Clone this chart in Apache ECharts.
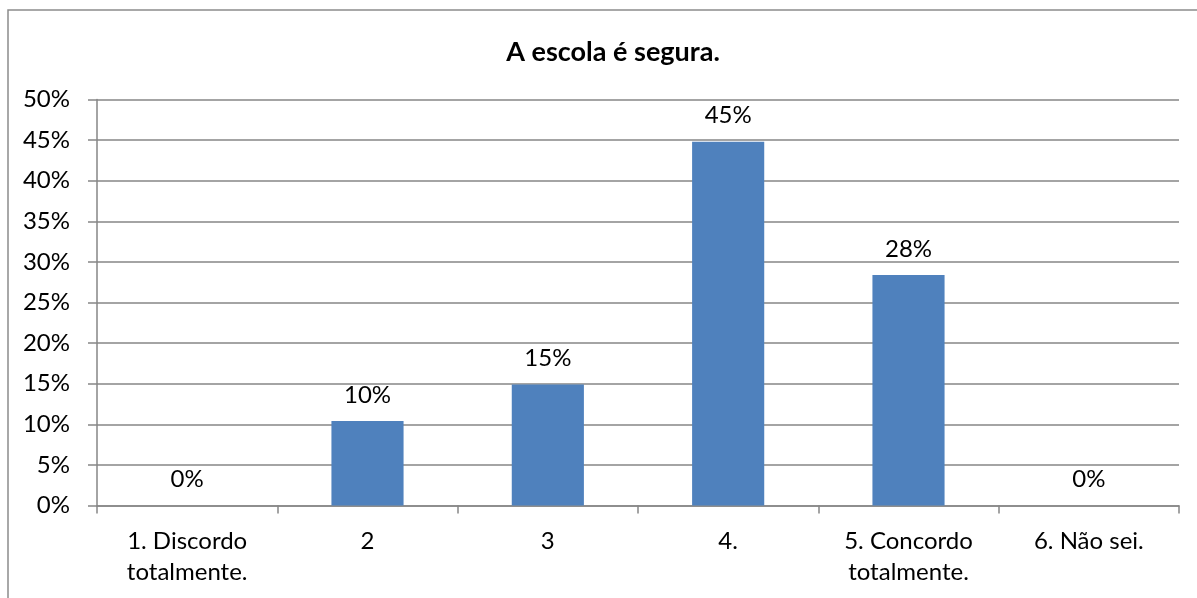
<!DOCTYPE html>
<html>
<head>
<meta charset="utf-8">
<script src="https://cdn.jsdelivr.net/npm/echarts@6/dist/echarts.min.js"></script>
<style>
html,body{margin:0;padding:0;background:#fff;}
#c{width:1197px;height:598px;}
</style>
</head>
<body>
<div id="c"></div>
<script>
const title = 'A escola é segura.';
const categories = ['1. Discordo\ntotalmente.', '2', '3', '4.', '5. Concordo\ntotalmente.', '6. Não sei.'];
const values = [0, 10.4, 14.9, 44.8, 28.4, 0];
const yTicks = { min: 0, max: 50, interval: 5 };

const FONT = 'Lato';
const FS = 24;
const chart = echarts.init(document.getElementById('c'));
chart.setOption({
  animation: false,
  backgroundColor: '#fff',
  title: {
    text: title,
    left: 608, top: 34, textAlign: 'center',
    textStyle: { fontFamily: FONT, fontSize: 27, fontWeight: 'bold', color: '#000' }
  },
  graphic: [{
    type: 'rect', shape: { x: 8, y: 10, width: 1250, height: 650 },
    style: { fill: 'none', stroke: '#8c8c8c', lineWidth: 1.5 }, silent: true
  }],
  grid: { left: 97, right: 18, top: 99.5, bottom: 92.5 },
  xAxis: {
    type: 'category', data: categories,
    axisLine: { lineStyle: { color: '#868686', width: 1.5 } },
    axisTick: { show: true, alignWithLabel: false, length: 8, lineStyle: { color: '#868686', width: 1.5 } },
    axisLabel: { margin: 20, fontFamily: FONT, fontSize: FS, color: '#000', lineHeight: 31, interval: 0 }
  },
  yAxis: {
    type: 'value', min: yTicks.min, max: yTicks.max, interval: yTicks.interval,
    axisLine: { show: true, lineStyle: { color: '#868686', width: 1.5 } },
    axisTick: { show: true, inside: false, length: 9, lineStyle: { color: '#868686', width: 1.5 } },
    splitLine: { lineStyle: { color: '#868686', width: 1.5 } },
    axisLabel: { margin: 27, fontFamily: FONT, fontSize: FS, color: '#000', formatter: v => v + '%' }
  },
  series: [{
    type: 'bar', data: values, barCategoryGap: '60%',
    itemStyle: { color: '#4F81BD' },
    label: {
      show: true, position: 'top', distance: 14,
      fontFamily: FONT, fontSize: FS, color: '#000',
      formatter: p => Math.round(p.value) + '%'
    }
  }]
});
</script>
</body>
</html>
